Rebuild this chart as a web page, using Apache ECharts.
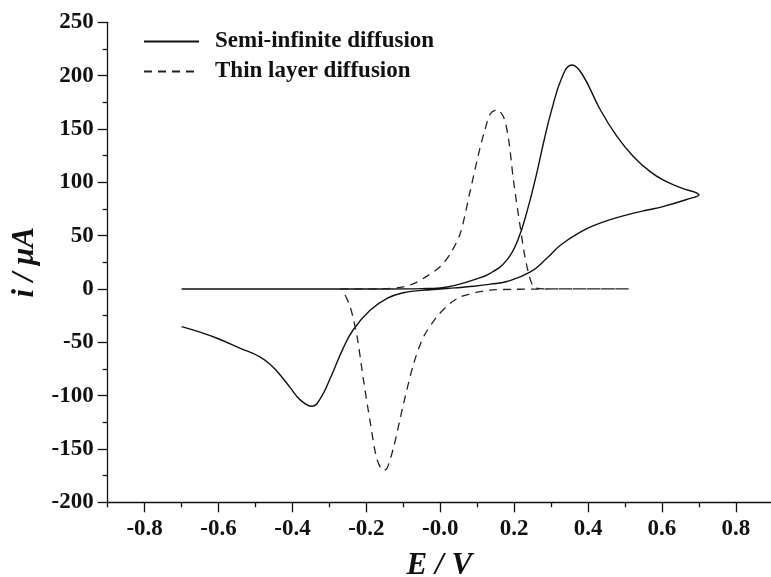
<!DOCTYPE html>
<html>
<head>
<meta charset="utf-8">
<title>Cyclic voltammograms</title>
<script src="https://cdn.jsdelivr.net/npm/echarts@6/dist/echarts.min.js"></script>
<style>
  html, body { margin: 0; padding: 0; background: #fff; }
  #chart { width: 771px; height: 577px; }
</style>
</head>
<body>
<div id="chart"></div>
<script>
// Semi-infinite diffusion: forward sweep (-0.7 -> 0.7 V) then reverse sweep back to -0.7 V
const semiE = [
  -0.7, -0.5, -0.3, -0.15, -0.05, 0.0, 0.045, 0.09, 0.135, 0.18, 0.21, 0.235, 0.26, 0.28,
  0.3, 0.33, 0.356, 0.383, 0.433, 0.478, 0.523, 0.568, 0.604, 0.65, 0.7,
  0.677, 0.6, 0.56, 0.5, 0.46, 0.42, 0.38, 0.325, 0.289, 0.244, 0.18, 0.135, 0.09, 0.04,
  0.0, -0.05, -0.1, -0.144, -0.19, -0.235, -0.262, -0.298, -0.325, -0.347, -0.379,
  -0.405, -0.43, -0.455, -0.487, -0.541, -0.604, -0.65, -0.7
];
const semiI = [
  0, 0, 0, 0, 0.3, 1, 3.8, 8.5, 14.7, 27, 46, 73, 107, 138,
  166, 199, 210, 202, 168, 143, 124, 110, 102, 95, 88,
  85, 77, 74, 69, 65, 60, 53.5, 41, 29, 16, 7, 4.5, 2.5, 1,
  0, -1.3, -3.5, -8.8, -20, -38, -55, -84, -103, -110, -104,
  -93, -82, -72.5, -63.8, -55.6, -46.2, -40.5, -35.3
];

// Thin layer diffusion: forward sweep (-0.27 -> 0.51 V) then reverse sweep back
const thinE = [
  -0.27, -0.15, -0.1, -0.072, -0.036, 0.0, 0.027, 0.054, 0.081, 0.108, 0.12, 0.135,
  0.153, 0.171, 0.185, 0.198, 0.2165, 0.2346, 0.257, 0.3, 0.51,
  0.3, 0.2, 0.135, 0.1, 0.072, 0.054, 0.027, -0.009, -0.045, -0.072, -0.099, -0.126,
  -0.144, -0.153, -0.171, -0.189, -0.208, -0.225, -0.244, -0.266
];
const thinI = [
  0, 0.3, 2, 5, 12, 21, 33, 52, 92, 133, 148, 164,
  168, 161.5, 140, 102, 58, 21, 1, 0, 0,
  0, -0.3, -1, -3, -5.6, -7.5, -13.4, -26, -44.7, -70, -107, -148,
  -168, -170, -160, -126, -85, -45, -16.6, 0
];

const seriesNames = ['Semi-infinite diffusion', 'Thin layer diffusion'];

// Axis ticks and their labels
const xMajorTicks = [-0.8, -0.6, -0.4, -0.2, 0.0, 0.2, 0.4, 0.6, 0.8];
const xTickLabels = ['-0.8', '-0.6', '-0.4', '-0.2', '-0.0', '0.2', '0.4', '0.6', '0.8'];
const xMinorTicks = [-0.9, -0.7, -0.5, -0.3, -0.1, 0.1, 0.3, 0.5, 0.7];
const yTickLabels = ['-200', '-150', '-100', '-50', '0', '50', '100', '150', '200', '250'];

const zip = (xs, ys) => xs.map((x, k) => [x, ys[k]]);

const FONT = '"Liberation Serif", "Times New Roman", serif';
const INK = '#111';

const chart = echarts.init(document.getElementById('chart'), null, { renderer: 'canvas' });

const xRange = { min: -0.9, max: 0.895 };

chart.setOption({
  backgroundColor: '#fff',
  animation: false,
  grid: {
    left: 107.7, right: 0, top: 22.3, bottom: 74.7,
    containLabel: false, outerBoundsMode: 'none'
  },
  legend: {
    orient: 'vertical',
    left: 138,
    top: 25,
    itemWidth: 55,
    itemHeight: 14,
    itemGap: 7,
    selectedMode: false,
    itemStyle: { opacity: 0 },
    textStyle: {
      fontFamily: FONT, fontWeight: 'bold', fontSize: 23, color: INK,
      lineHeight: 22, padding: [0, 0, 0, 11]
    },
    data: seriesNames
  },
  xAxis: [
    {
      type: 'value',
      min: xRange.min, max: xRange.max,
      name: 'E / V',
      nameLocation: 'middle',
      nameGap: 48,
      nameTextStyle: { fontFamily: FONT, fontWeight: 'bold', fontStyle: 'italic', fontSize: 31, color: INK },
      axisLine: { show: true, onZero: false, lineStyle: { color: INK, width: 1.3 } },
      axisTick: { show: true, inside: false, length: 10, customValues: xMajorTicks, lineStyle: { color: INK, width: 1.3 } },
      axisLabel: {
        show: true, margin: 15, customValues: xMajorTicks,
        fontFamily: FONT, fontWeight: 'bold', fontSize: 23, color: INK,
        formatter: v => {
          const k = xMajorTicks.findIndex(t => Math.abs(t - v) < 1e-9);
          return k >= 0 ? xTickLabels[k] : '';
        }
      },
      splitLine: { show: false }
    },
    {
      type: 'value',
      min: xRange.min, max: xRange.max,
      position: 'bottom',
      axisLine: { show: false, onZero: false },
      axisTick: { show: true, inside: false, length: 5, customValues: xMinorTicks, lineStyle: { color: INK, width: 1.3 } },
      axisLabel: { show: false },
      splitLine: { show: false }
    }
  ],
  yAxis: {
    type: 'value',
    min: -200, max: 250, interval: 50,
    name: 'i / μA',
    nameLocation: 'middle',
    nameGap: 61,
    nameRotate: 90,
    nameTextStyle: { fontFamily: FONT, fontWeight: 'bold', fontStyle: 'italic', fontSize: 31, color: INK },
    axisLine: { show: true, onZero: false, lineStyle: { color: INK, width: 1.3 } },
    axisTick: { show: true, inside: false, length: 10, lineStyle: { color: INK, width: 1.3 } },
    minorTick: { show: true, splitNumber: 2, length: 5, lineStyle: { color: INK, width: 1.3 } },
    axisLabel: {
      margin: 14, fontFamily: FONT, fontWeight: 'bold', fontSize: 23, color: INK,
      formatter: v => yTickLabels[Math.round((v + 200) / 50)]
    },
    splitLine: { show: false },
    minorSplitLine: { show: false }
  },
  series: [
    {
      name: seriesNames[0],
      type: 'line',
      xAxisIndex: 0,
      data: zip(semiE, semiI),
      smooth: 0.45,
      symbol: 'none',
      color: INK,
      lineStyle: { color: INK, width: 1.4, type: 'solid' }
    },
    {
      name: seriesNames[1],
      type: 'line',
      xAxisIndex: 0,
      data: zip(thinE, thinI),
      smooth: 0.3,
      symbol: 'none',
      color: '#222',
      lineStyle: { color: '#222', width: 1.3, type: [8, 6] }
    }
  ]
});
</script>
</body>
</html>
